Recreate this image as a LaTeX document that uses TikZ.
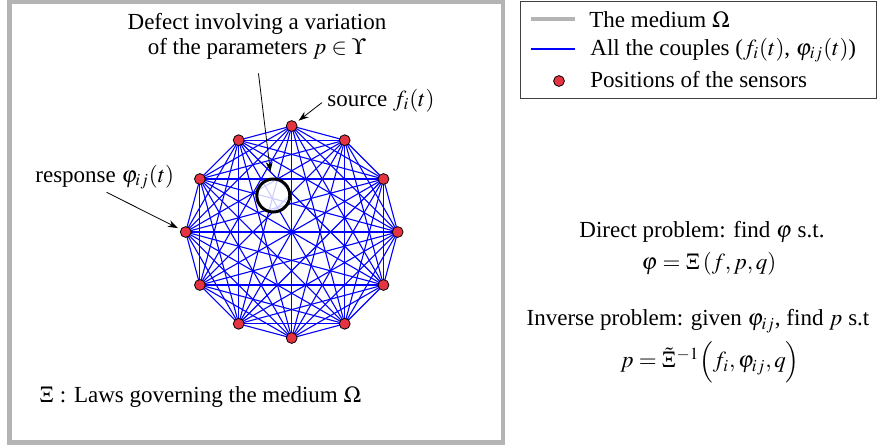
\documentclass[tikz,border=0pt]{standalone}
\usepackage{mathptmx}
\usepackage[no-math]{fontspec}
\setmainfont{Liberation Serif}
\usetikzlibrary{arrows.meta}

\definecolor{sensorred}{RGB}{229,51,66}
\definecolor{mediumgray}{RGB}{180,180,180}

\begin{document}
\begin{tikzpicture}[
  x=0.5pt, y=-0.5pt,
  every node/.style = {font=\fontsize{11.5}{12.5}\selectfont, inner sep=1pt},
  medium/.style = {draw=mediumgray, line width=2.3pt},
  couple/.style = {draw=blue, line width=0.55pt},
  sensor/.style = {circle, draw=black, line width=0.4pt, fill=sensorred, minimum size=5.4pt, inner sep=0pt},
  defect/.style = {circle, draw=black, line width=1.5pt, fill=white, fill opacity=0.8, minimum size=16.5pt, inner sep=0pt},
  pointer/.style = {-{Stealth[length=5pt,width=3.5pt]}, line width=0.4pt}
]
\useasboundingbox (0,0) rectangle (877,445);

% the medium
\draw[medium] (9.5,2) rectangle (503,442.5);

% sensors on a ring and all the couples between them
\foreach \i in {0,...,11}
  \coordinate (p\i) at ({291.7+106*cos(90-30*\i)}, {232-106*sin(90-30*\i)});
\foreach \i in {0,...,11}
  \foreach \j in {0,...,11}
    {\ifnum\i<\j \draw[couple] (p\i) -- (p\j); \fi}
\node[defect] (defect) at (273.3,195.5) {};
\foreach \i in {0,...,11}
  \node[sensor] (s\i) at (p\i) {};

% labels
\node[align=center] (defectlabel) at (257,36) {Defect involving a variation\\of the parameters $p\in\Upsilon$};
\draw[pointer, shorten <=6pt, shorten >=3pt] (defectlabel.south) -- (defect);
\node[anchor=base west] (source) at (325,106) {source $f_i(t)$};
\draw[pointer, shorten <=2pt, shorten >=1.5pt] (source.west) -- (s0);
\node[anchor=base west] (response) at (33,182) {response $\varphi_{ij}(t)$};
\draw[pointer, shorten <=1pt, shorten >=1.5pt] (response.south) -- (s9);
\node[anchor=base west] (laws) at (37,402) {$\Xi$ : Laws governing the medium $\Omega$};

% legend
\draw[draw=black!75, line width=0.5pt] (520,1) rectangle (876,98);
\coordinate (l1a) at (531,19);
\coordinate (l1b) at (575,19);
\draw[medium] (l1a) -- (l1b);
\node[anchor=base west] (l1) at (587,27) {The medium $\Omega$};
\coordinate (l2a) at (531,49);
\coordinate (l2b) at (575,49);
\draw[couple] (l2a) -- (l2b);
\node[anchor=base west] (l2) at (588,55) {All the couples ($f_i(t)$, $\varphi_{ij}(t)$)};
\node[sensor] (l3a) at (559,81) {};
\node[anchor=base west] (l3) at (588,87) {Positions of the sensors};

% the two problems
\node (direct) at (702,232) {Direct problem: find $\varphi$ s.t.};
\node (directeq) at (709,264) {$\varphi = \Xi\,(f,p,q)$};
\node (inverse) at (698,321) {Inverse problem: given $\varphi_{ij}$, find $p$ s.t};
\node (inverseeq) at (710,362) {$p = \tilde{\Xi}^{-1}\Bigl(f_i,\varphi_{ij},q\Bigr)$};
\end{tikzpicture}
\end{document}
